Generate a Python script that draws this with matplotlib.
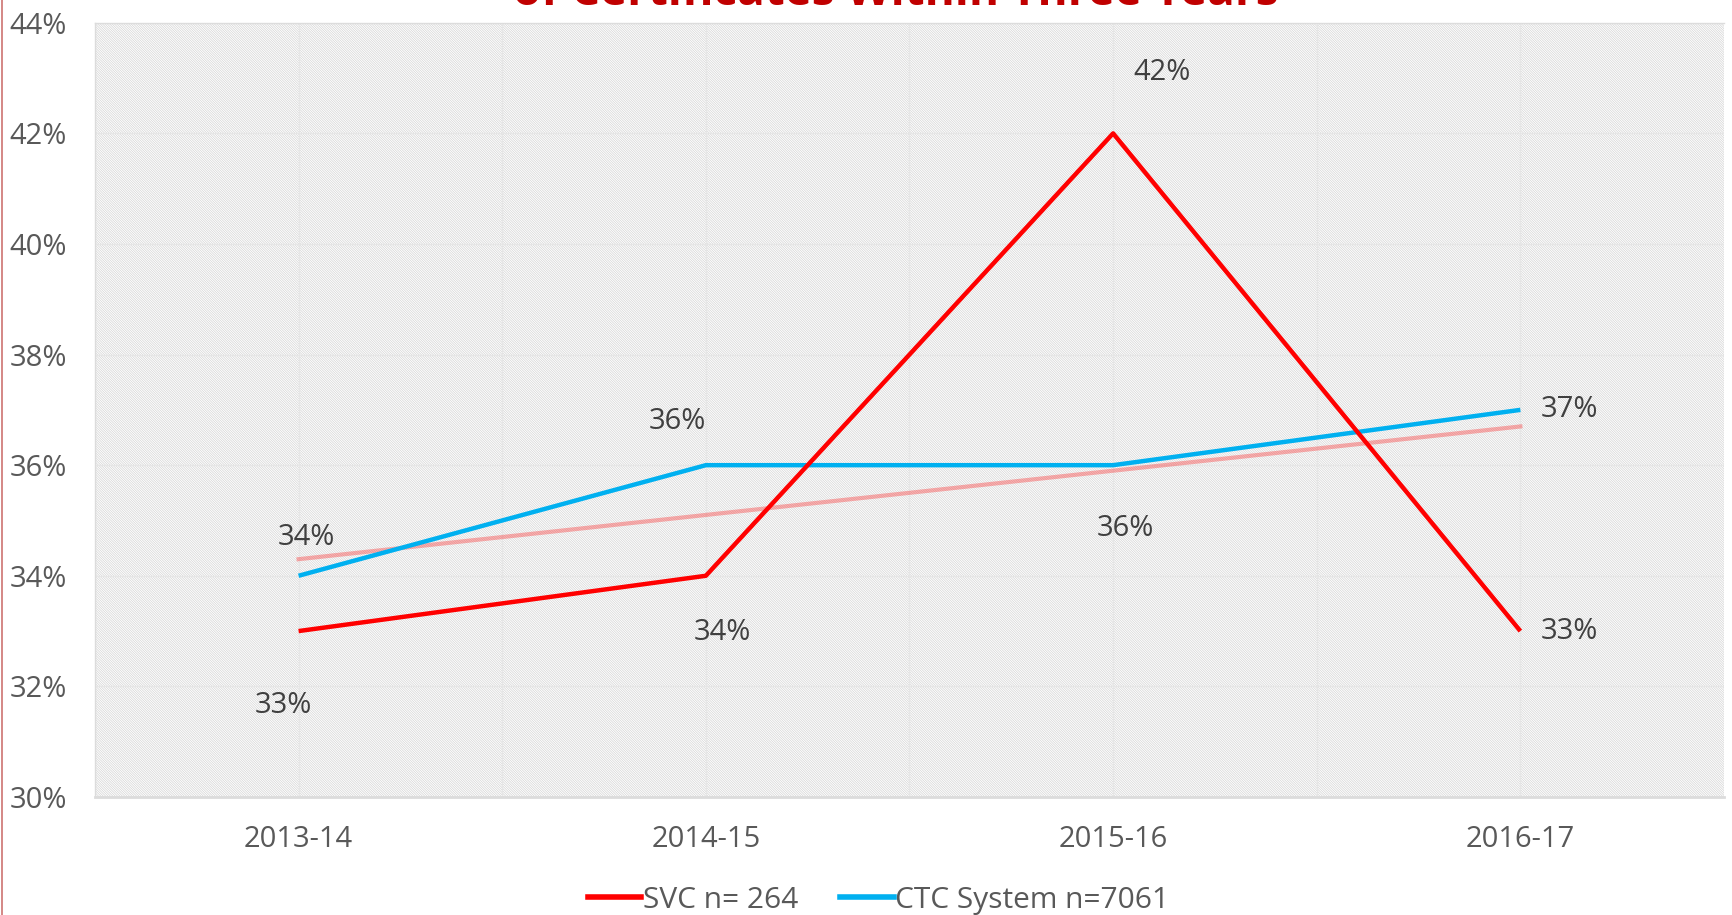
import numpy as np
import matplotlib
matplotlib.use('Agg')
import matplotlib.pyplot as plt
from matplotlib.lines import Line2D
from matplotlib.patches import Rectangle

#Datos
years = ['2013-14', '2014-15', '2015-16', '2016-17']
svc = [33, 34, 42, 33]
ctc = [34, 36, 36, 37]
svc_name = 'SVC n= 264'
ctc_name = 'CTC System n=7061'
titulo = 'of Certificates Within Three Years'
yticks = [30, 32, 34, 36, 38, 40, 42, 44]

#desplazamiento de etiquetas (pixeles)
svc_off = [(-15, -74), (17, -57), (49, 61), (49, 0)]
ctc_off = [(8, 38), (-28, 44), (12, -63), (49, 0)]

plt.rcParams['font.family'] = ['Open Sans', 'DejaVu Sans']
gris = '#595959'

fig = plt.figure(figsize=(17.33, 9.15), dpi=100)
ax = fig.add_axes([0.0548, 0.129, 0.94, 0.8461])

x = np.arange(len(years))

#fondo rayado
plt.rcParams['hatch.linewidth'] = 0.5
fondo = Rectangle((0, 0), 1, 1, transform=ax.transAxes, facecolor='white',
                  edgecolor='#d4d4d4', hatch='\\' * 14, linewidth=0, zorder=0)
ax.add_patch(fondo)

#lineas
ax.plot(x, svc, color='#FF0000', lw=3.2, zorder=4, solid_capstyle='butt')
ax.plot(x, ctc, color='#00B0F0', lw=3.2, zorder=3, solid_capstyle='butt')

#tendencia lineal de SVC
m, b = np.polyfit(x, svc, 1)
ax.plot(x, m * x + b, color='#FF0000', alpha=0.3, lw=3, zorder=2)

#etiquetas
for i in range(len(years)):
    ax.annotate('%i%%' % svc[i], (x[i], svc[i]), xytext=svc_off[i],
                textcoords='offset pixels', ha='center', va='center',
                fontsize=21, color='#404040', zorder=5)
    ax.annotate('%i%%' % ctc[i], (x[i], ctc[i]), xytext=ctc_off[i],
                textcoords='offset pixels', ha='center', va='center',
                fontsize=21, color='#404040', zorder=5)

ax.set_xlim(-0.5, len(years) - 0.5)
ax.set_ylim(30, 44)
ax.set_yticks(yticks)
ax.set_yticklabels(['%i%%' % v for v in yticks])
ax.set_xticks(x)
ax.set_xticklabels(years)
ax.set_xticks(np.arange(-0.5, len(years), 1), minor=True)
ax.tick_params(length=0, which='both')
ax.tick_params(axis='y', labelsize=21, labelcolor=gris, pad=20)
ax.tick_params(axis='x', labelsize=21, labelcolor=gris, pad=20)
ax.grid(True, which='both', color='#e6e6e6', lw=1, zorder=1)
ax.set_axisbelow(True)
for s in ax.spines.values():
    s.set_color('#dcdcdc')
    s.set_linewidth(1)
ax.spines['bottom'].set_linewidth(2)
ax.spines['right'].set_visible(False)

#leyenda
h = [Line2D([0], [0], color='#FF0000', lw=4),
     Line2D([0], [0], color='#00B0F0', lw=4)]
fig.legend(h, [svc_name, ctc_name], loc='center', bbox_to_anchor=(0.507, 0.016),
           ncol=2, frameon=False, fontsize=21.5, handlelength=1.8,
           handletextpad=0.05, columnspacing=1.4, labelcolor=gris)

#titulo cortado
fig.text(0.517, 0.9945, titulo, ha='center', va='baseline', fontsize=33,
         fontweight='bold', color='#C00000')

#linea roja izquierda
fig.add_artist(Line2D([0.0012, 0.0012], [0, 1], color='#C0504D', lw=1.2,
                      alpha=0.8, transform=fig.transFigure))

fig.savefig('out.png', dpi=100)
